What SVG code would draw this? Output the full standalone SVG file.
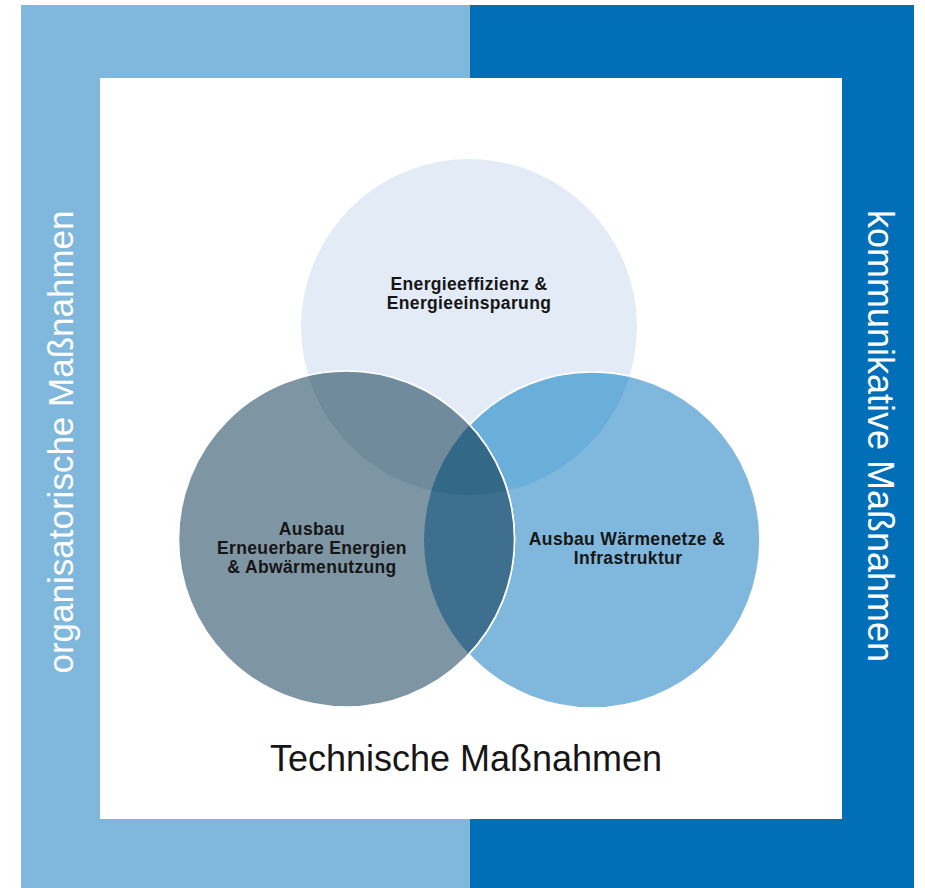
<svg xmlns="http://www.w3.org/2000/svg" width="925" height="888" viewBox="0 0 925 888">
<style>
.lbl{font-family:"Liberation Sans",Arial,sans-serif;font-weight:bold;font-size:17.5px;letter-spacing:0.35px;fill:#161616;text-anchor:middle}
.side{font-family:"Liberation Sans",Arial,sans-serif;font-size:35px;fill:#ffffff;text-anchor:middle}
.title{font-family:"Liberation Sans",Arial,sans-serif;font-size:36px;fill:#161616;text-anchor:middle}
.ws{stroke:#ffffff;stroke-width:1.6}
</style>
<defs>
<clipPath id="cTop"><circle cx="469" cy="327" r="168"/></clipPath>
<clipPath id="cRight"><circle cx="592" cy="540" r="168"/></clipPath>
</defs>
<rect width="925" height="888" fill="#ffffff"/>
<g id="background">
<rect x="21" y="5" width="449" height="883" fill="#80b7dc"/>
<rect x="470" y="5" width="444" height="883" fill="#006fb8"/>
<rect x="100" y="78" width="742" height="741" fill="#ffffff"/>
</g>
<g id="node-top">
<circle cx="469" cy="327" r="168" fill="#e3ecf6"/>
</g>
<g id="node-right">
<circle cx="592" cy="540" r="168" fill="#80b7dd" class="ws"/>
<circle cx="592" cy="540" r="168" fill="#6aafda" class="ws" clip-path="url(#cTop)"/>
</g>
<g id="node-left">
<circle cx="346.5" cy="539" r="168" fill="#7e95a3" class="ws"/>
<circle cx="346.5" cy="539" r="168" fill="#6f8b9c" class="ws" clip-path="url(#cTop)"/>
<circle cx="346.5" cy="539" r="168" fill="#3e6f8f" class="ws" clip-path="url(#cRight)"/>
<g clip-path="url(#cTop)">
<circle cx="346.5" cy="539" r="168" fill="#346887" class="ws" clip-path="url(#cRight)"/>
</g>
</g>
<g id="labels">
<text class="lbl" x="469" y="290">Energieeffizienz &amp;</text>
<text class="lbl" x="469" y="309">Energieeinsparung</text>
<text class="lbl" x="312" y="535">Ausbau</text>
<text class="lbl" x="312" y="554">Erneuerbare Energien</text>
<text class="lbl" x="312" y="573">&amp; Abwärmenutzung</text>
<text class="lbl" x="627" y="545">Ausbau Wärmenetze &amp;</text>
<text class="lbl" x="628" y="564">Infrastruktur</text>
</g>
<g id="side-labels">
<text class="side" transform="translate(73,442) rotate(-90)">organisatorische Maßnahmen</text>
<text class="side" style="font-size:36px" transform="translate(868,436) rotate(90)">kommunikative Maßnahmen</text>
<text class="title" x="466" y="771">Technische Maßnahmen</text>
</g>
</svg>
